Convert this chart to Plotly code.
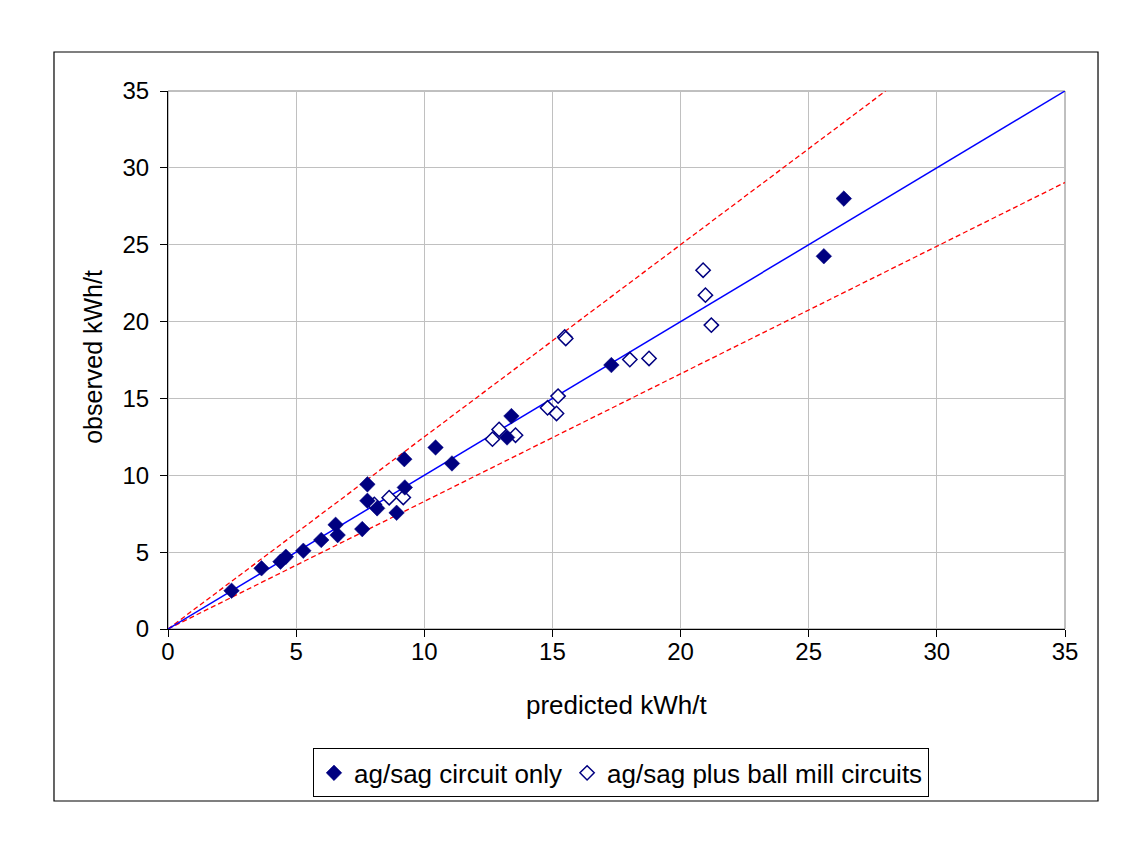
import plotly.graph_objects as go

# ag/sag circuit only (filled diamonds)
pred_ag = [2.48, 3.65, 4.39, 4.60, 5.28, 5.98, 6.54, 6.62, 7.58, 7.78, 7.78, 8.16, 8.92, 9.24, 9.22,
           10.44, 11.08, 13.23, 13.40, 17.30, 25.59, 26.37]
obs_ag = [2.49, 3.95, 4.38, 4.70, 5.09, 5.79, 6.78, 6.11, 6.50, 8.34, 9.41, 7.85, 7.56, 9.21, 11.05,
          11.81, 10.77, 12.46, 13.85, 17.17, 24.25, 28.00]

# ag/sag plus ball mill circuits (open diamonds)
pred_ball = [8.05, 8.63, 9.18, 12.66, 12.92, 13.56, 14.81, 15.16, 15.22, 15.48, 15.52, 18.02, 18.77,
             20.88, 20.97, 21.20]
obs_ball = [8.10, 8.54, 8.56, 12.35, 12.98, 12.61, 14.39, 14.02, 15.15, 19.00, 18.90, 17.53, 17.60,
            23.34, 21.72, 19.77]

# reference lines
line_x = [0, 35]
line_y = [0, 35]
upper_x = [0, 28]
upper_y = [0, 35]
lower_x = [0, 35]
lower_y = [0, 29.05]

ticks = [0, 5, 10, 15, 20, 25, 30, 35]

x_title = "predicted kWh/t"
y_title = "observed kWh/t"

navy = "#000080"
FONT = "Arial, Liberation Sans"
fig = go.Figure()

fig.add_trace(go.Scatter(x=upper_x, y=upper_y, mode="lines",
                         line=dict(color="#FF0000", width=1.3, dash="5px,3px"), showlegend=False))
fig.add_trace(go.Scatter(x=lower_x, y=lower_y, mode="lines",
                         line=dict(color="#FF0000", width=1.3, dash="5px,3px"), showlegend=False))
fig.add_trace(go.Scatter(x=line_x, y=line_y, mode="lines",
                         line=dict(color="#0000FF", width=1.5), showlegend=False))

fig.add_trace(go.Scatter(x=pred_ball, y=obs_ball, mode="markers", name="ag/sag plus ball mill circuits",
                         marker=dict(symbol="diamond", size=11, color="white",
                                     line=dict(color=navy, width=1.5))))
fig.add_trace(go.Scatter(x=pred_ag, y=obs_ag, mode="markers", name="ag/sag circuit only",
                         marker=dict(symbol="diamond", size=12, color=navy,
                                     line=dict(color=navy, width=0.5))))

# plot-area frame (gray top/right) and outer chart border
fig.add_shape(type="rect", xref="paper", yref="paper", x0=0, y0=0, x1=1, y1=1,
              line=dict(color="#808080", width=1), layer="below")
fig.add_shape(type="rect", xref="paper", yref="paper", x0=-0.1271, y0=-0.3197, x1=1.0368, y1=1.0725,
              line=dict(color="black", width=1.2))

axis_common = dict(
    showgrid=True, gridcolor="#c0c0c0", gridwidth=1,
    showline=True, linecolor="black", linewidth=1.2,
    ticks="outside", ticklen=7, tickcolor="black",
    tickfont=dict(family=FONT, size=24, color="black"),
    zeroline=False, tickvals=ticks, ticktext=[str(t) for t in ticks],
    range=[0, 35], fixedrange=True,
)

fig.update_xaxes(**axis_common, ticklabelstandoff=-6)
fig.update_yaxes(**axis_common, ticklabelstandoff=6)

# axis titles as annotations (positioned like the original)
fig.add_annotation(text=x_title, xref="paper", yref="paper", x=0.5, y=-0.142,
                   xanchor="center", yanchor="middle", showarrow=False,
                   font=dict(family=FONT, size=26, color="black"))
fig.add_annotation(text=y_title, xref="paper", yref="paper", x=-0.0836, y=0.506,
                   xanchor="center", yanchor="middle", showarrow=False, textangle=-90,
                   font=dict(family=FONT, size=25, color="black"))

fig.update_layout(
    width=1148, height=845,
    margin=dict(l=168, r=83, t=91, b=216),
    paper_bgcolor="white", plot_bgcolor="white",
    font=dict(family=FONT, color="black"),
    legend=dict(orientation="h", x=0.505, xanchor="center", y=-0.222, yanchor="top",
                bordercolor="black", borderwidth=1, bgcolor="white",
                font=dict(family=FONT, size=26, color="black"),
                traceorder="reversed", itemwidth=30, tracegroupgap=0),
)

fig.write_html("out.html")
